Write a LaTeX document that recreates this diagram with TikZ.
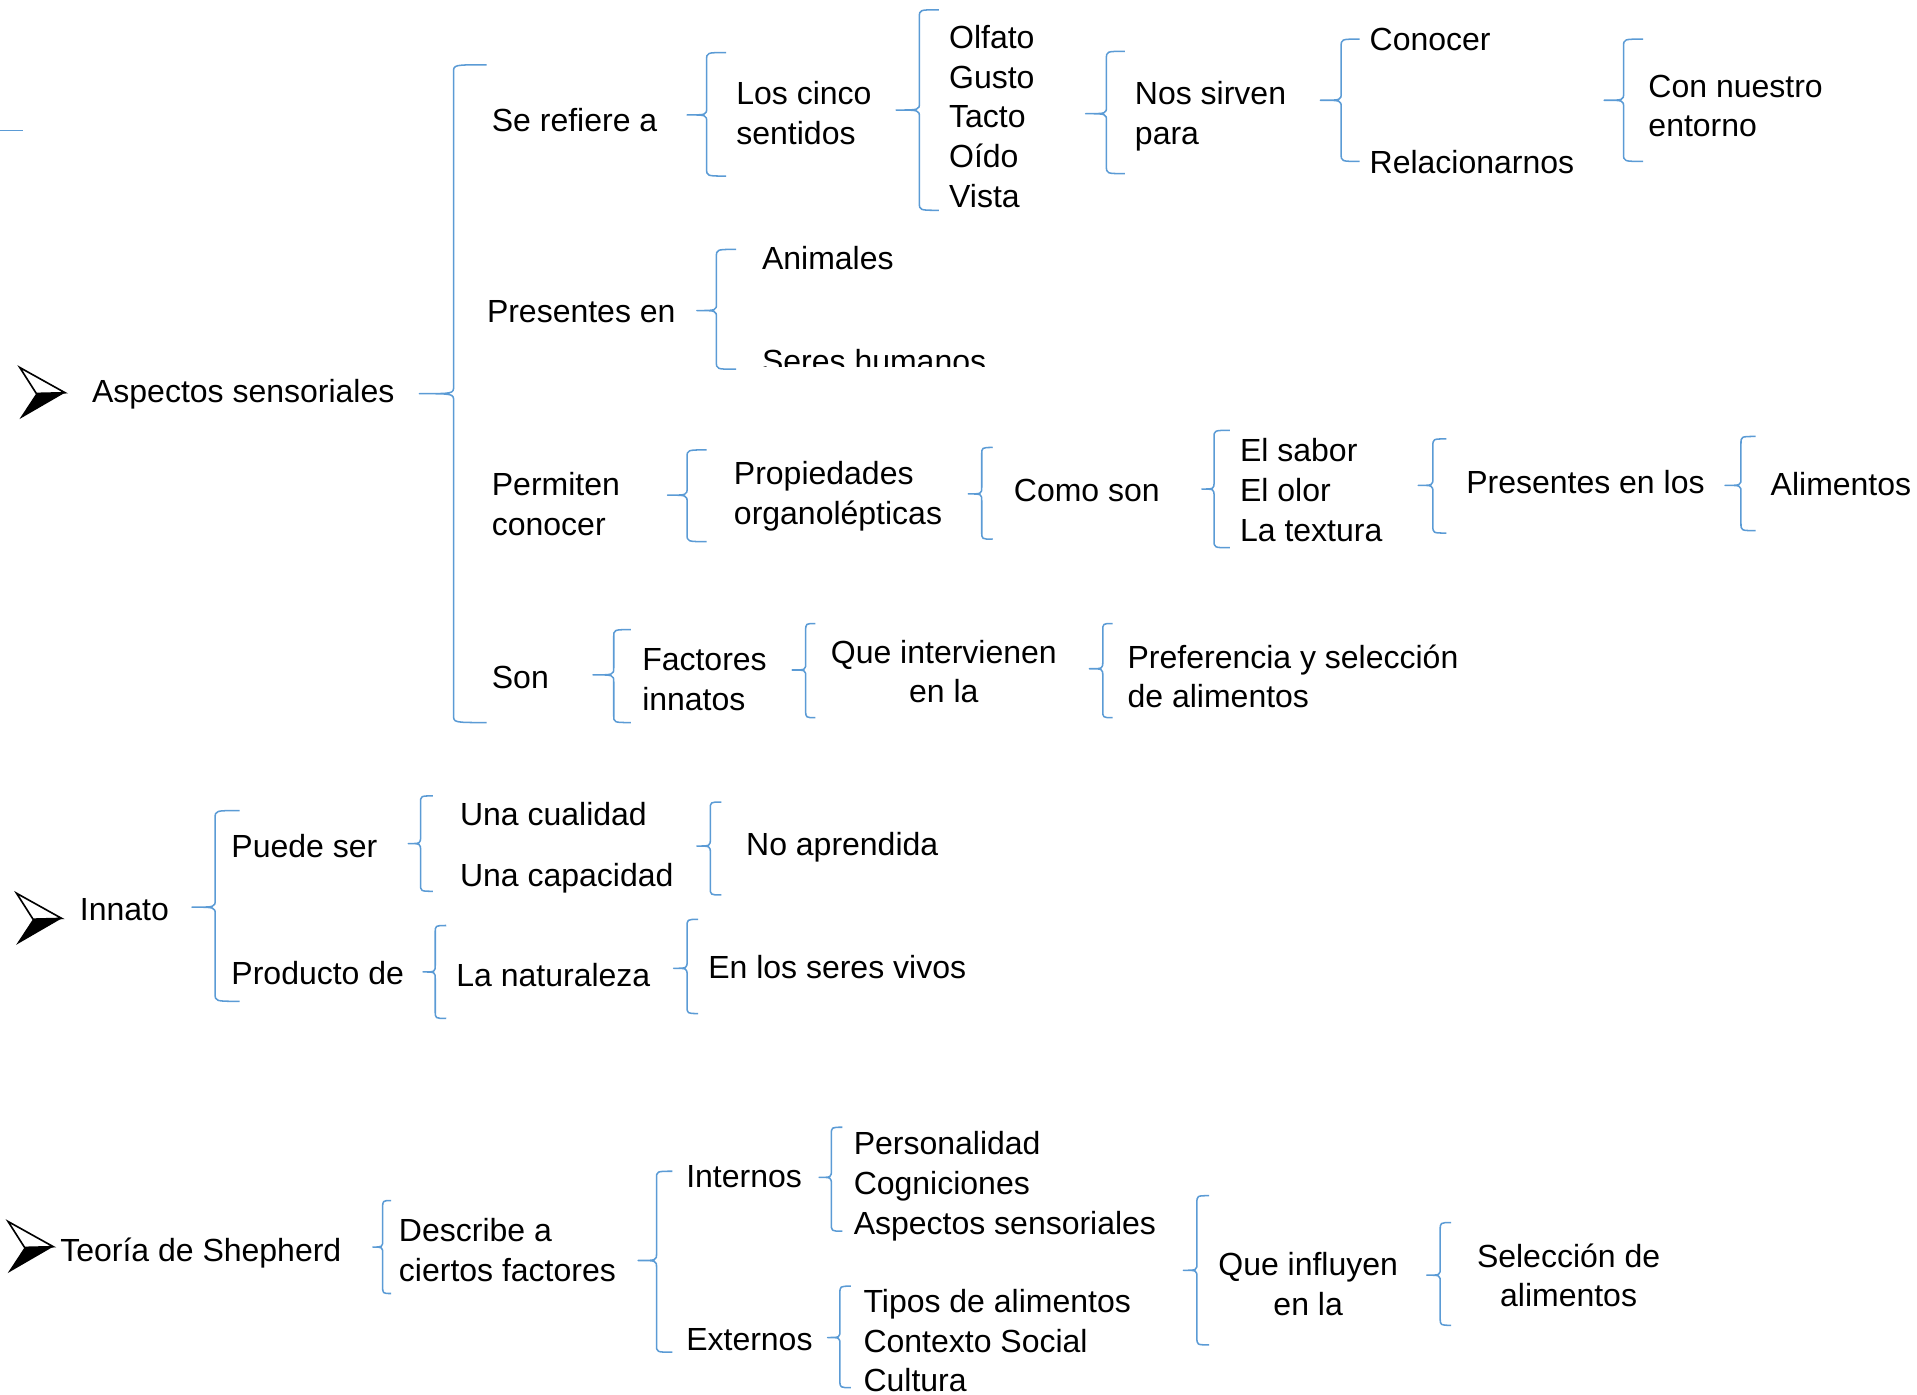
\documentclass[tikz,border=0pt]{standalone}
\usepackage{fontspec}
\setmainfont{Liberation Sans}
\newlength{\du}
\setlength{\du}{0.6pt}
\definecolor{dialinecolor}{rgb}{0.356863, 0.607843, 0.835294}
\tikzset{
  txt/.style={anchor=base west, inner sep=0pt, align=left, font=\fontsize{15.7}{19.5}\selectfont},
  ctxt/.style={txt, anchor=base, align=center},
  brc/.style={draw=dialinecolor, line width=0.75pt, line join=round},
}
% left brace: tip x, bar x, hook x, top y, mid y, bottom y
\newcommand{\sbrace}[6]{%
\draw[brc] ({#3*\du},{#4*\du}) .. controls ({#2*\du},{#4*\du}) and ({#2*\du},{#4*\du}) .. ({#2*\du},{(#4+6)*\du})
  -- ({#2*\du},{(#5-6)*\du}) .. controls ({#2*\du},{#5*\du}) and ({#2*\du},{#5*\du}) .. ({#1*\du},{#5*\du})
  .. controls ({#2*\du},{#5*\du}) and ({#2*\du},{#5*\du}) .. ({#2*\du},{(#5+6)*\du})
  -- ({#2*\du},{(#6-6)*\du}) .. controls ({#2*\du},{#6*\du}) and ({#2*\du},{#6*\du}) .. ({#3*\du},{#6*\du});}
% bullet arrow, tip at x y
\newcommand{\smark}[2]{%
\fill[black] (#1\du,#2\du) -- ++(-23.5\du,0.6\du) -- ++(-13.8\du,21\du) -- cycle;
\draw[black, line width=0.8pt, line join=miter] (#1\du,#2\du) -- ++(-37\du,-20.6\du) -- ++(13.5\du,21.2\du) -- cycle;}

\begin{document}
\begin{tikzpicture}
\pgftransformxscale{1.000000}
\pgftransformyscale{-1.000000}
\useasboundingbox (0\du,0\du) rectangle (1568\du,1141\du);
\draw[brc] (0\du,106.9\du) -- (19\du,106.9\du);
% Aspectos sensoriales
\smark{53.2}{321.2}
\node[txt] (asp) at (75\du,329.5\du) {Aspectos sensoriales};
\sbrace{343}{371}{398}{53}{322}{591}
\node[txt] (ser) at (402\du,107.5\du) {Se refiere a};
\sbrace{562}{578}{594}{43}{94}{144}
\node[txt] (cin) at (602\du,118\du) {Los cinco\\sentidos};
\sbrace{733}{752}{768}{8}{90}{172}
\node[txt] (sen) at (776\du,169.5\du) {Olfato\\Gusto\\Tacto\\Oído\\Vista};
\sbrace{888}{905}{920}{42}{93}{142}
\node[txt] (nos) at (928\du,118\du) {Nos sirven\\para};
\sbrace{1080}{1097}{1112}{32}{82}{132}
\node[txt] (con) at (1120\du,41.5\du) {Conocer};
\node[txt] (rel) at (1120\du,141.5\du) {Relacionarnos};
\sbrace{1312}{1328}{1344}{32}{82}{132}
\node[txt] (ent) at (1348\du,112\du) {Con nuestro\\entorno};
\node[txt] (pre) at (398\du,263.5\du) {Presentes en};
\sbrace{570}{586}{602}{204}{254}{302}
\node[txt] (ani) at (623\du,220.5\du) {Animales};
\begin{scope}
\clip (600\du,270\du) rectangle (840\du,300\du);
\node[txt] (hum) at (623\du,305\du) {Seres humanos};
\end{scope}
\node[txt] (per) at (402\du,438\du) {Permiten\\conocer};
\sbrace{546}{562}{578}{368}{405}{443}
\node[txt] (org) at (600\du,429\du) {Propiedades\\organolépticas};
\sbrace{792}{803}{812}{366}{404}{441}
\node[txt] (com) at (829\du,410.5\du) {Como son};
\sbrace{983}{993}{1006}{352}{400}{448}
\node[txt] (sab) at (1014\du,442.5\du) {El sabor\\El olor\\La textura};
\sbrace{1160}{1172}{1183}{359}{397}{436}
\node[txt] (plo) at (1199\du,403.5\du) {Presentes en los};
\sbrace{1411}{1424}{1436}{357}{397}{434}
\node[txt] (ali) at (1448\du,405.5\du) {Alimentos};
\node[txt] (son) at (402\du,563.5\du) {Son};
\sbrace{485}{502}{516}{515}{552}{591}
\node[txt] (fac) at (525\du,581\du) {Factores\\innatos};
\sbrace{648}{659}{667}{510}{548}{587}
\node[ctxt] (qin) at (772\du,575\du) {Que intervienen\\en la};
\sbrace{891}{902}{910}{510}{547}{587}
\node[txt] (psa) at (922\du,579\du) {Preferencia y selección\\de alimentos};
% Innato
\smark{50.5}{751.2}
\node[txt] (inn) at (65\du,752.5\du) {Innato};
\sbrace{157}{176}{196}{663}{742}{819}
\node[txt] (pue) at (189\du,701.5\du) {Puede ser};
\sbrace{334}{344}{354}{651}{690}{729}
\node[txt] (cua) at (376\du,675.5\du) {Una cualidad};
\node[txt] (cap) at (376\du,725.5\du) {Una capacidad};
\sbrace{570}{581}{590}{656}{692}{732}
\node[txt] (noa) at (610\du,699.5\du) {No aprendida};
\node[txt] (pro) at (189\du,805.5\du) {Producto de};
\sbrace{346}{356}{365}{757}{795}{833}
\node[txt] (nat) at (373\du,806.5\du) {La naturaleza};
\sbrace{551}{562}{571}{752}{792}{829}
\node[txt] (viv) at (579\du,800.5\du) {En los seres vivos};
% Teoria de Shepherd
\smark{43.6}{1019.7}
\node[txt] (teo) at (49\du,1031.5\du) {Teoría de Shepherd};
\sbrace{305}{313}{320}{982}{1020}{1058}
\node[txt] (des) at (326\du,1048\du) {Describe a\\ciertos factores};
\sbrace{522}{537}{550}{958}{1031}{1106}
\node[txt] (int) at (561\du,971.5\du) {Internos};
\sbrace{670}{680}{689}{922}{963}{1007}
\node[txt] (pco) at (698\du,1009.5\du) {Personalidad\\Cogniciones\\Aspectos sensoriales};
\node[txt] (ext) at (561\du,1104.5\du) {Externos};
\sbrace{677}{687}{696}{1052}{1094}{1135}
\node[txt] (tip) at (706\du,1138.5\du) {Tipos de alimentos\\Contexto Social\\Cultura};
\sbrace{968}{979}{989}{978}{1039}{1100}
\node[ctxt] (qif) at (1070\du,1076\du) {Que influyen\\en la};
\sbrace{1167}{1178}{1187}{1000}{1043}{1084}
\node[ctxt] (sel) at (1283\du,1069\du) {Selección de\\alimentos};
\end{tikzpicture}
\end{document}
